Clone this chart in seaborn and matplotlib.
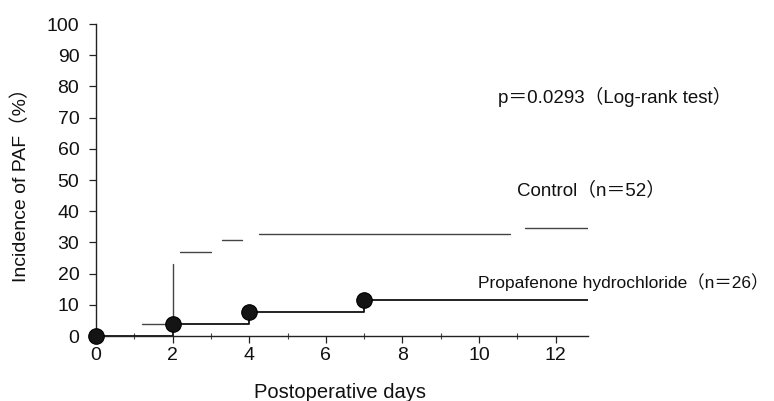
import matplotlib
matplotlib.use("Agg")
import matplotlib.pyplot as plt
import seaborn as sns
import pandas as pd
from matplotlib.ticker import MultipleLocator

# ---- data ----
control_start = [1.2, 2.2, 3.3, 4.25, 11.2]
control_end = [2.0, 3.0, 3.8, 10.8, 12.85]
control_level = [3.8, 26.9, 30.8, 32.7, 34.6]
control_jump_day = 2.0
control_jump_from = 3.8
control_jump_to = 23.1

prop_days = [0, 2, 4, 7]
prop_level = [0, 3.8, 7.7, 11.5]
x_end = 12.85

y_ticks = list(range(0, 101, 10))
x_ticks = [0, 2, 4, 6, 8, 10, 12]

sns.set_theme(style="ticks")
plt.rcParams["font.family"] = ["Liberation Sans", "Noto Sans CJK JP", "DejaVu Sans"]

# segments table
rows = []
for i, (s, e, lv) in enumerate(zip(control_start, control_end, control_level)):
    rows.append(dict(seg=f"c{i}", x=s, y=lv))
    rows.append(dict(seg=f"c{i}", x=e, y=lv))
rows.append(dict(seg="cv", x=control_jump_day, y=control_jump_from))
rows.append(dict(seg="cv", x=control_jump_day, y=control_jump_to))
seg = pd.DataFrame(rows)

# propafenone step line
px, py = [], []
for i, d in enumerate(prop_days):
    nxt = prop_days[i + 1] if i + 1 < len(prop_days) else x_end
    if i > 0:
        px.append(d); py.append(prop_level[i - 1])
    px.append(d); py.append(prop_level[i])
    px.append(nxt); py.append(prop_level[i])
prop = pd.DataFrame(dict(x=px, y=py, seg="p"))
dots = pd.DataFrame(dict(x=prop_days, y=prop_level))

fig = plt.figure(figsize=(7.74, 4.01), dpi=100)
ax = fig.add_axes([0.124, 0.162, 0.636, 0.778])

sns.lineplot(data=seg, x="x", y="y", units="seg", estimator=None, sort=False,
             color="#444444", linewidth=1.0, ax=ax, legend=False)
sns.lineplot(data=prop, x="x", y="y", units="seg", estimator=None, sort=False,
             color="#111111", linewidth=1.3, ax=ax, legend=False)
sns.scatterplot(data=dots, x="x", y="y", s=125, color="#141414", edgecolor="#000000",
                linewidth=0.8, ax=ax, zorder=5, clip_on=False, legend=False)

ax.set_xlim(0, x_end)
ax.set_ylim(0, 100)
ax.set_xticks(x_ticks)
ax.set_yticks(y_ticks)
ax.xaxis.set_minor_locator(MultipleLocator(1))
ax.tick_params(axis="x", which="major", direction="out", length=5, width=0.9,
               labelsize=14, pad=3, color="#222222", labelcolor="#111111")
ax.tick_params(axis="x", which="minor", direction="inout", length=4, width=0.8,
               color="#444444")
ax.tick_params(axis="y", which="major", direction="out", length=5, width=0.9,
               labelsize=14, pad=7, color="#222222", labelcolor="#111111")
sns.despine(ax=ax)
for sp in ["left", "bottom"]:
    ax.spines[sp].set_linewidth(1.0)
    ax.spines[sp].set_color("#222222")

ax.set_xlabel("Postoperative days", fontsize=14.5, color="#111111")
ax.set_ylabel("Incidence of PAF（%）", fontsize=14, color="#111111")
# label positions in figure pixels (reference measured)
ax.xaxis.set_label_coords((340 - 96) / (0.636 * 774), -(392 - 336) / (0.778 * 401),
                          transform=ax.transAxes)
ax.yaxis.set_label_coords(-(96 - 21) / (0.636 * 774), (336 - 180) / (0.778 * 401),
                          transform=ax.transAxes)
ax.xaxis.label.set_va("center")
ax.yaxis.label.set_va("center")

ax.text(10.5, 76.5, "p＝0.0293（Log-rank test）", fontsize=13.5, va="center",
        ha="left", clip_on=False, color="#111111")
ax.text(11.0, 46.8, "Control（n＝52）", fontsize=13.5, va="center", ha="left",
        clip_on=False, color="#111111")
ax.text(9.97, 17.3, "Propafenone hydrochloride（n＝26）", fontsize=12.5, va="center",
        ha="left", clip_on=False, color="#111111")

fig.savefig("out.png", dpi=100)
